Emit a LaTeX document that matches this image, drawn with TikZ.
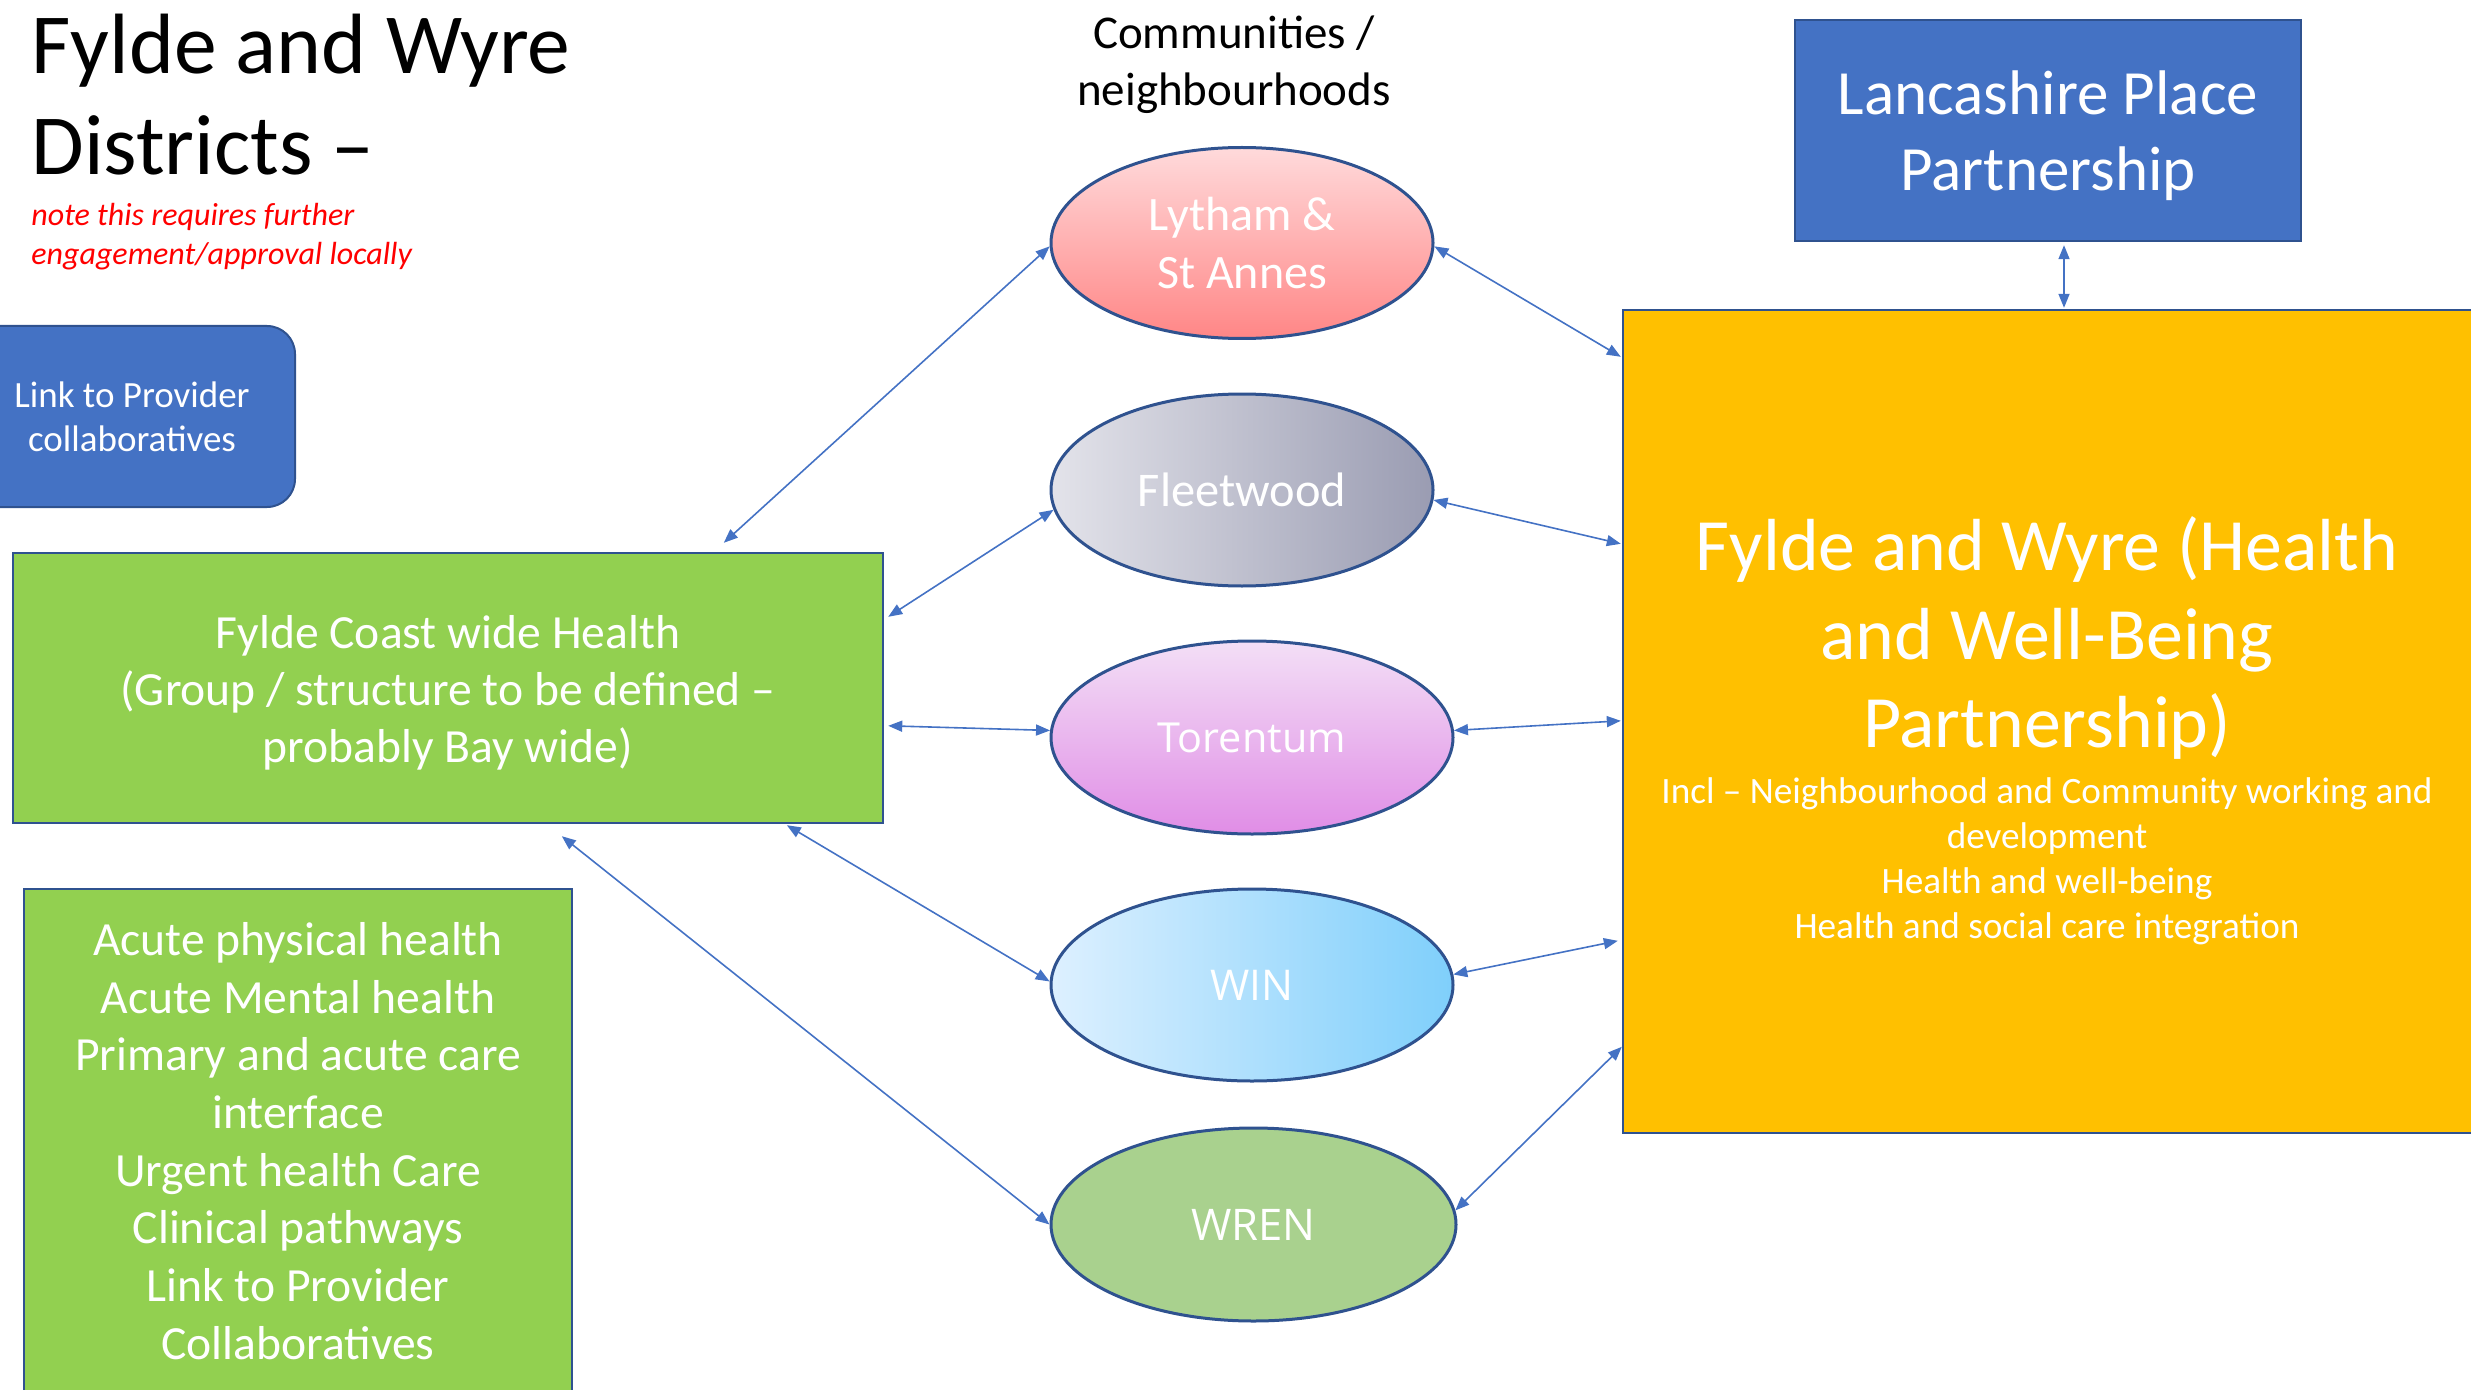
\documentclass[tikz,border=0pt]{standalone}
\usepackage{fontspec}
\setmainfont{Carlito}
\newfontfamily\segoe{Open Sans}
\usetikzlibrary{shapes.geometric,arrows.meta,calc}
\definecolor{edgeblue}{HTML}{2F528F}
\definecolor{fillblue}{HTML}{4472C4}
\definecolor{fillgreen}{HTML}{92D050}
\definecolor{fillorange}{HTML}{FFC000}
\definecolor{wrengreen}{HTML}{A9D18E}
\definecolor{arrowblue}{HTML}{4472C4}
\definecolor{notered}{HTML}{FF0000}
\definecolor{lytTop}{HTML}{FFDADB}
\definecolor{lytBot}{HTML}{FF8686}
\definecolor{fltL}{HTML}{E3E3EA}
\definecolor{fltR}{HTML}{9A9CB2}
\definecolor{torTop}{HTML}{F3DFF6}
\definecolor{torBot}{HTML}{E08DE6}
\definecolor{winL}{HTML}{DDF0FF}
\definecolor{winR}{HTML}{7FCFFB}
\newcommand\fstrut{\rule{0pt}{1em}}
\tikzset{
  box/.style={rectangle, draw=edgeblue, line width=1.2pt, text=white, align=center, inner sep=0pt},
  town/.style={ellipse, draw=edgeblue, line width=1.5pt, text=white, align=center, inner sep=0pt},
  link/.style={draw=arrowblue, line width=0.8pt, arrows={Triangle[length=7pt,width=5.5pt]-Triangle[length=7pt,width=5.5pt]}},
  plaintext/.style={inner sep=0pt}
}
\begin{document}
\begin{tikzpicture}[x=0.5pt, y=-0.5pt]
\useasboundingbox (0,0) rectangle (2471,1390);

% title and note
\node[plaintext, anchor=north west, align=left, font=\fontsize{42.8}{50.5}\selectfont] (title) at (31,-12.6) {\fstrut Fylde and Wyre\\Districts –};
\node[plaintext, anchor=north west, align=left, text=notered, font=\fontsize{16}{19.5}\selectfont\itshape] (note) at (31,193) {\fstrut note this requires further\\engagement/approval locally};
\node[plaintext, anchor=north, align=center, font=\fontsize{23.5}{28.5}\selectfont] (comm) at (1234,1) {\fstrut Communities /\\neighbourhoods};

% boxes
\node[box, fill=fillblue, rounded corners=14pt, line width=1pt, minimum width=163pt, minimum height=90.5pt, font=\fontsize{18.5}{22}\selectfont] (lpc) at (132,416.5) {Link to Provider\\collaboratives};
\node[box, fill=fillgreen, minimum width=435pt, minimum height=135pt, font=\fontsize{23.8}{28.5}\selectfont] (fc) at (448,688) {\rule{0pt}{0.915em}Fylde Coast wide Health\\(Group / structure to be defined –\\probably Bay wide)};
\node[box, fill=fillgreen, minimum width=274pt, minimum height=252pt, font=\fontsize{23.8}{28.85}\selectfont] (acute) at (298,1141) {Acute physical health\\Acute Mental health\\Primary and acute care\\interface\\Urgent health Care\\Clinical pathways\\Link to Provider\\Collaboratives};
\node[box, fill=fillblue, minimum width=253pt, minimum height=110.5pt, font=\fontsize{31.5}{38}\selectfont] (lpp) at (2048,130.5) {\rule{0pt}{0.86em}Lancashire Place\\Partnership};
\node[box, fill=fillorange, minimum width=425pt, minimum height=411.5pt] (fwp) at (2048,721.5) {};
\node[plaintext, anchor=north, align=center, text=white, font=\fontsize{36.9}{44.25}\selectfont] (fwpt) at (2047,496.5) {\fstrut Fylde and Wyre (Health\\and Well-Being\\Partnership)};
\node[plaintext, anchor=north, align=center, text=white, font=\fontsize{18.6}{22.5}\selectfont] (fwpi) at (2047,766) {\fstrut Incl – Neighbourhood and Community working and\\development\\Health and well-being\\Health and social care integration};

% communities
\node[town, minimum width=191pt, minimum height=95.5pt, top color=lytTop, bottom color=lytBot, font=\fontsize{24}{29}\selectfont] (lyt) at (1242,243) {Lytham \&\\St Annes};
\node[town, minimum width=191pt, minimum height=96pt, left color=fltL, right color=fltR, font=\fontsize{24.2}{29}\selectfont] (flt) at (1242,490) {Fleetwood};
\node[town, minimum width=201pt, minimum height=96.5pt, top color=torTop, bottom color=torBot, font=\segoe\fontsize{20.7}{25}\selectfont] (tor) at (1252,737.5) {Torentum};
\node[town, minimum width=201pt, minimum height=96pt, left color=winL, right color=winR, font=\segoe\fontsize{21.2}{25}\selectfont] (win) at (1252,985) {WIN};
\node[town, minimum width=202.5pt, minimum height=96.5pt, fill=wrengreen, font=\segoe\fontsize{21.8}{25}\selectfont] (wren) at (1253.5,1224.5) {WREN};

% connector end points on boxes
\coordinate (fcA) at ($(fc.north west)+(712,-9)$);
\coordinate (fcB) at ($(fc.north east)+(4,65)$);
\coordinate (fcC) at ($(fc.north east)+(4,174)$);
\coordinate (fcD) at ($(fc.south west)+(775,1)$);
\coordinate (fcE) at ($(fc.south west)+(550,12)$);
\coordinate (fwA) at ($(fwp.north west)+(-1,48)$);
\coordinate (fwB) at ($(fwp.north west)+(-1,235)$);
\coordinate (fwC) at ($(fwp.north west)+(-1,412)$);
\coordinate (fwD) at ($(fwp.north west)+(-4,632)$);
\coordinate (fwE) at ($(fwp.north west)+(0,738)$);
\coordinate (lppS) at ($(lpp.south)+(16,3)$);
\coordinate (fwN) at ($(fwp.north)+(16,-1)$);

% connectors
\draw[link] (fcA) -- (lyt.181);
\draw[link] (fcB) -- (flt.186);
\draw[link] (fcC) -- (tor.178);
\draw[link] (fcD) -- (win.179);
\draw[link] (fcE) -- (wren.180);
\draw[link] (lyt.359) -- (fwA);
\draw[link] (flt.357) -- (fwB);
\draw[link] (tor.2) -- (fwC);
\draw[link] (win.3) -- (fwD);
\draw[link] (wren.4) -- (fwE);
\draw[link] (lppS) -- (fwN);
\end{tikzpicture}
\end{document}
